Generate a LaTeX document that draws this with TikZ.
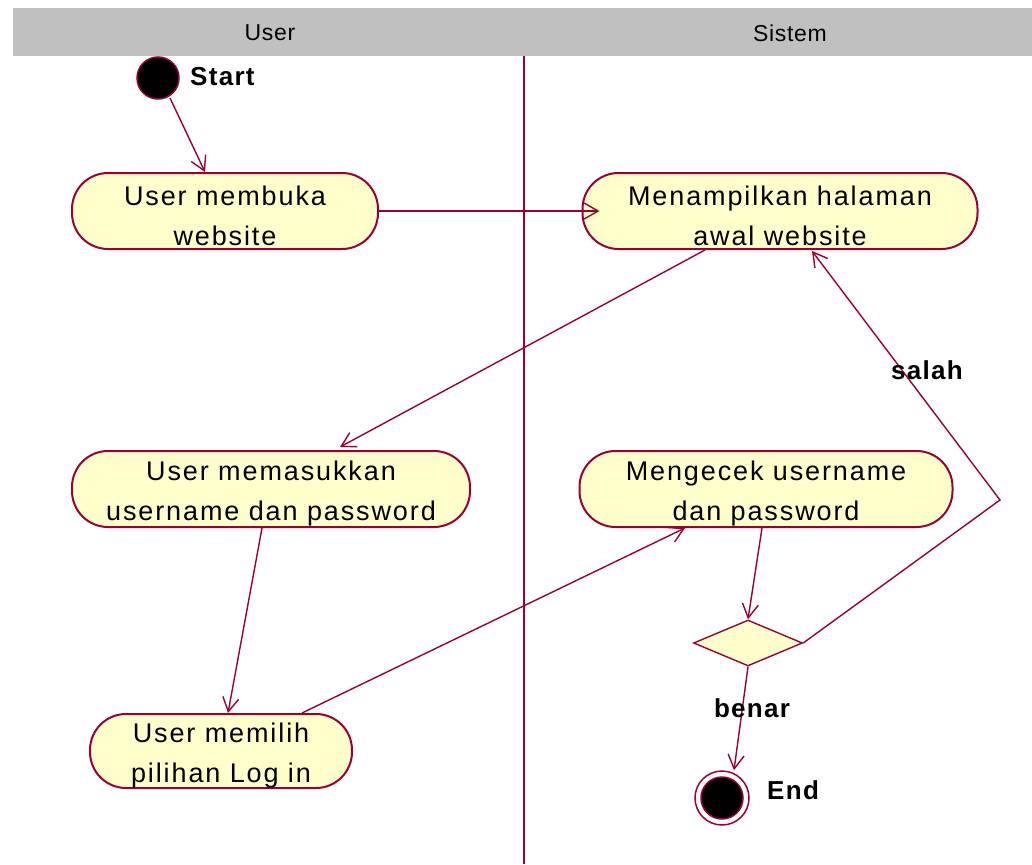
\documentclass[tikz,border=0pt]{standalone}
\usepackage{fontspec}
\setmainfont{Liberation Sans}
\newfontfamily\actfont[LetterSpace=7]{Liberation Sans}
\newfontfamily\lblfont[LetterSpace=5]{Liberation Sans Bold}
\usetikzlibrary{arrows.meta,shapes.geometric,calc}
\definecolor{umlred}{HTML}{990033}
\definecolor{actfill}{HTML}{FFFFCC}
\definecolor{lanegray}{HTML}{C0C0C0}
\begin{document}
\begin{tikzpicture}[x=1pt,y=-1pt,
  act/.style={draw=umlred, line width=2pt, fill=actfill, rounded corners=36pt,
    minimum height=76pt, inner sep=0pt},
  acttext/.style={align=center, font=\actfont\fontsize{27}{40}\selectfont, inner sep=0pt, yshift=-5pt},
  arr/.style={draw=umlred, line width=1.4pt, -{Straight Barb[length=14pt,width=16pt,line width=1.4pt]}},
  lbl/.style={font=\lblfont\fontsize{26}{28}\selectfont, inner sep=0pt},
  lanehead/.style={font=\fontsize{23}{24}\selectfont\addfontfeature{LetterSpace=3}, inner sep=0pt}]
\useasboundingbox (0,0) rectangle (1032,864);
% swimlane header
\fill[lanegray] (13,8) rectangle (1032,56);
\node[lanehead] (hUser) at (270,33) {User};
\node[lanehead] (hSistem) at (790,33) {Sistem};
\draw[umlred, line width=2pt] (524,56) -- (524,864);
% start
\node[circle, draw=umlred, line width=1.5pt, fill=black, minimum size=42pt, inner sep=0pt] (start) at (158,78) {};
\node[lbl, anchor=west] (startlbl) at (190,77) {Start};
% activities
\node[act, minimum width=306pt, label={[acttext]center:User membuka\\website}] (b1) at (225,211) {};
\node[act, minimum width=395pt, label={[acttext]center:Menampilkan halaman\\awal website}] (b2) at (780,211) {};
\node[act, minimum width=398pt, label={[acttext]center:User memasukkan\\username dan password}] (b3) at (271,489) {};
\node[act, minimum width=373pt, label={[acttext]center:Mengecek username\\dan password}] (b4) at (766,489) {};
\node[act, minimum width=262pt, minimum height=74pt, label={[acttext]center:User memilih\\pilihan Log in}] (b5) at (221,751) {};
% decision
\node[diamond, draw=umlred, line width=1.4pt, fill=actfill, minimum width=109pt, minimum height=46pt, inner sep=0pt] (dia) at (748,643) {};
% end
\node[circle, draw=umlred, line width=1.5pt, fill=white, minimum size=54pt, inner sep=0pt] (end) at (722,798) {};
\node[circle, draw=umlred, line width=1.5pt, fill=black, minimum size=42pt, inner sep=0pt] (endin) at (end.center) {};
\node[lbl, anchor=west] (endlbl) at (767,790) {End};
% connectors
\draw[arr] ($(start.center)+(12,20)$) -- ($(b1.north)+(-20,0)$);
\draw[arr] (b1.east) -- ($(b2.west)+(18,0)$);
\draw[arr] ($(b2.south)+(-75,0)$) -- ($(b3.north)+(69,-3)$);
\draw[arr] ($(b3.south)+(-9,0)$) -- ($(b5.north)+(7,0)$);
\draw[arr] ($(b5.north)+(81,0)$) -- ($(b4.south)+(-81,0)$);
\draw[arr] ($(b4.south)+(-4,0)$) -- (dia.north);
\coordinate (bend) at (1000,500);
\draw[arr] (dia.east) -- (bend) -- ($(b2.south)+(32,1)$);
\draw[arr] (dia.south) -- ($(end.north)+(12,0)$);
\node[lbl] (salah) at (927,370) {salah};
\node[lbl] (benar) at (752,708) {benar};
\end{tikzpicture}
\end{document}
